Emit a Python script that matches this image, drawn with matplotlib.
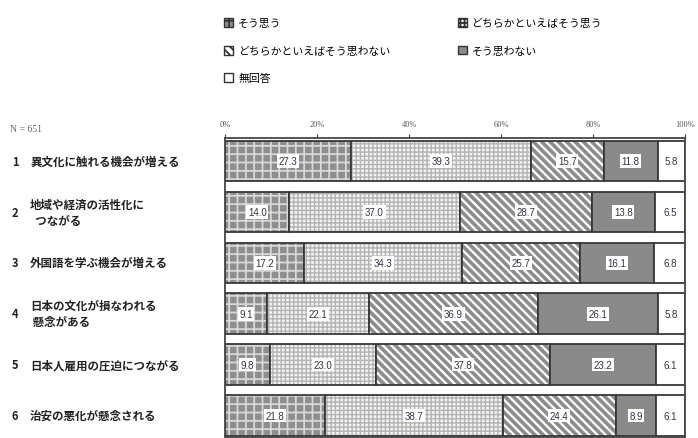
import numpy as np
import matplotlib
matplotlib.use("Agg")
import matplotlib.pyplot as plt
from matplotlib.patches import Patch

plt.rcParams['font.family'] = ['Noto Sans CJK JP', 'DejaVu Sans']
plt.rcParams['hatch.linewidth'] = 1.3

# データ
items = ["異文化に触れる機会が増える",
         "地域や経済の活性化に\n  つながる",
         "外国語を学ぶ機会が増える",
         "日本の文化が損なわれる\n 懸念がある",
         "日本人雇用の圧迫につながる",
         "治安の悪化が懸念される"]
answers = ["そう思う", "どちらかといえばそう思う", "どちらかといえばそう思わない",
           "そう思わない", "無回答"]
sou_omou = [27.3, 14.0, 17.2, 9.1, 9.8, 21.8]
dochira_omou = [39.3, 37.0, 34.3, 22.1, 23.0, 38.7]
dochira_omowanai = [15.7, 28.7, 25.7, 36.9, 37.8, 24.4]
omowanai = [11.8, 13.8, 16.1, 26.1, 23.2, 8.9]
mukaitou = [5.8, 6.5, 6.8, 5.8, 6.1, 6.1]
series = [sou_omou, dochira_omou, dochira_omowanai, omowanai, mukaitou]
n_total = 651

# 塗り: 面の色, ハッチ, ハッチの色, ハッチの線幅
faces = ["#8e8e8e", "#f2f2f2", "#ffffff", "#8a8a8a", "#ffffff"]
hatches = ["++", "++++", "\\\\\\\\", None, None]
hatch_cols = ["#d8d8d8", "#b4b4b4", "#8c8c8c", None, None]
hatch_lw = [1.3, 1.0, 2.6, 1.0, 1.0]

fig = plt.figure(figsize=(6.98, 4.39), dpi=100)
ax = fig.add_axes([225 / 698, 0.002, 460 / 698, 0.681])

y = np.arange(len(items))
left = np.zeros(len(items))
for k, vals in enumerate(series):
    vals = np.array(vals)
    ax.barh(y, vals, left=left, height=0.8, color=faces[k], edgecolor='none')
    if hatches[k]:
        with plt.rc_context({'hatch.linewidth': hatch_lw[k]}):
            ax.barh(y, vals, left=left, height=0.8, color='none',
                    edgecolor=hatch_cols[k], hatch=hatches[k], linewidth=0)
    ax.barh(y, vals, left=left, height=0.8, fill=False,
            edgecolor='#383838', linewidth=1.3)
    for i, v in enumerate(vals):
        cx = left[i] + v / 2
        if k == len(series) - 1:
            ax.text(cx, y[i], f"{v:.1f}", ha='center', va='center',
                    fontsize=7, color='#333344', family='Liberation Sans')
        else:
            ax.text(cx, y[i], f"{v:.1f}", ha='center', va='center',
                    fontsize=7, color='#333344', family='Liberation Sans',
                    bbox=dict(facecolor='white', edgecolor='none', pad=1.2))
    left += vals

ax.set_xlim(0, 100)
ax.set_ylim(5.42, -0.45)
ax.xaxis.tick_top()
ax.set_xticks([0, 20, 40, 60, 80, 100])
ax.set_xticklabels([f"{t}%" for t in [0, 20, 40, 60, 80, 100]],
                   family='Liberation Serif', fontsize=6, color='#555555')
ax.tick_params(axis='x', length=3, width=0.8, color='#444444', pad=4)
ax.set_yticks([])
for s in ax.spines.values():
    s.set_color('#444444')
    s.set_linewidth(1.3)

# 左側のラベル
fig.text(10 / 698, 1 - 130 / 439, f"N = {n_total}", family='Liberation Serif',
         fontsize=7, color='#666666', va='center')
for i, name in enumerate(items):
    yy = ax.transData.transform((0, y[i]))[1] / fig.bbox.height
    fig.text(12 / 698, yy, f"{i + 1}", fontsize=8, color='#222222',
             va='center', weight='bold')
    fig.text(30 / 698, yy, name, fontsize=8.3, color='#222222',
             va='center', weight='bold', linespacing=1.3)

# 凡例
handles = [Patch(facecolor=faces[k], edgecolor='#333333',
                 hatch=hatches[k], linewidth=1) for k in range(len(answers))]
order = [0, 2, 4, 1, 3]
fig.legend([handles[k] for k in order], [answers[k] for k in order],
           loc='upper left', bbox_to_anchor=(224 / 698, 1 - 19 / 439),
           ncol=2, frameon=False, fontsize=7.8, handlelength=0.85,
           handleheight=0.85, handletextpad=0.45, labelspacing=1.6,
           columnspacing=6.2, borderaxespad=0, borderpad=0)

fig.savefig("out.png", dpi=100)
